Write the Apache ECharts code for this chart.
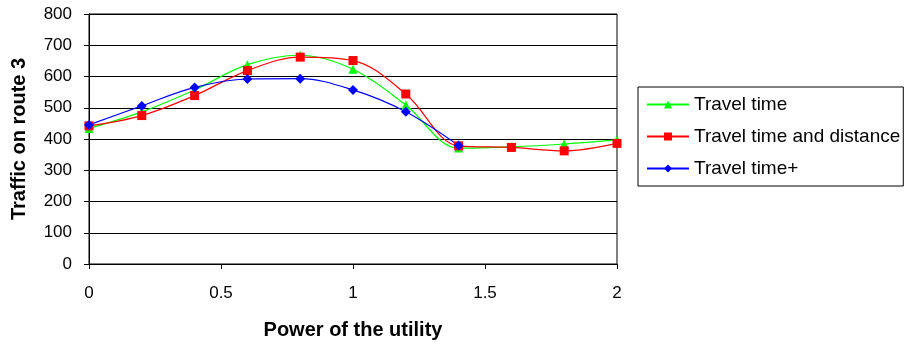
<!DOCTYPE html>
<html><head><meta charset="utf-8">
<script src="https://cdn.jsdelivr.net/npm/echarts@6/dist/echarts.min.js"></script>
<style>html,body{margin:0;padding:0;background:#fff}#c{width:910px;height:345px}</style>
</head><body><div id="c"></div>
<script>
const xValues = [0, 0.2, 0.4, 0.6, 0.8, 1.0, 1.2, 1.4, 1.6, 1.8, 2.0];
const travelTime = [434, 487, 557, 638, 668, 623, 509, 371, 375, 384, 397];
const travelTimeDistance = [442, 475, 539, 619, 662, 651, 544, 378, 373, 362, 386];
const travelTimePlus = [445, 506, 565, 592, 593, 557, 487, 379];
const yTicks = [0, 100, 200, 300, 400, 500, 600, 700, 800];
const xTickLabels = ['0', '0.5', '1', '1.5', '2'];

const pairs = (vals) => vals.map((v, i) => [xValues[i], v]);
const font = 'Liberation Sans, Arial, sans-serif';
const chart = echarts.init(document.getElementById('c'));
chart.setOption({
  animation: false,
  grid: { left: 89, right: 293, top: 14, bottom: 81, show: true, borderColor: '#000', borderWidth: 1 },
  xAxis: {
    type: 'value', min: 0, max: 2, interval: 0.5,
    name: 'Power of the utility', nameLocation: 'middle', nameGap: 56,
    nameTextStyle: { fontFamily: font, fontWeight: 'bold', fontSize: 20, color: '#000' },
    axisLine: { lineStyle: { color: '#000', width: 1 } },
    axisTick: { show: true, length: 5, lineStyle: { color: '#000' } },
    axisLabel: { fontFamily: font, fontSize: 17, color: '#000', margin: 21,
      formatter: (v) => { const s = String(v); return xTickLabels.includes(s) ? s : ''; } },
    splitLine: { show: false }
  },
  yAxis: {
    type: 'value', min: yTicks[0], max: yTicks[yTicks.length - 1], interval: 100,
    name: 'Traffic on route 3', nameLocation: 'middle', nameGap: 60, nameRotate: 90,
    nameTextStyle: { fontFamily: font, fontWeight: 'bold', fontSize: 20, color: '#000' },
    axisLine: { show: true, lineStyle: { color: '#000', width: 1 } },
    axisTick: { show: true, length: 5, lineStyle: { color: '#000' } },
    axisLabel: { fontFamily: font, fontSize: 17, color: '#000', margin: 17 },
    splitLine: { show: true, lineStyle: { color: '#000', width: 1 } }
  },
  legend: {
    orient: 'vertical', left: 638, top: 87,
    backgroundColor: '#fff', borderColor: '#000', borderWidth: 1,
    padding: [8, 3, 8, 8], itemGap: 13, itemWidth: 42, itemHeight: 10,
    textStyle: { fontFamily: font, fontSize: 19, color: '#000', padding: [0, 0, 0, 0] },
    data: ['Travel time', 'Travel time and distance', 'Travel time+']
  },
  series: [
    { name: 'Travel time', type: 'line', smooth: 0.35, data: pairs(travelTime),
      symbol: 'triangle', symbolSize: 9, color: '#00ff00',
      lineStyle: { width: 1.2, color: '#00ff00' }, itemStyle: { color: '#00ff00' } },
    { name: 'Travel time and distance', type: 'line', smooth: 0.35, data: pairs(travelTimeDistance),
      symbol: 'rect', symbolSize: 9, color: '#ff0000',
      lineStyle: { width: 1.2, color: '#ff0000' }, itemStyle: { color: '#ff0000' } },
    { name: 'Travel time+', type: 'line', smooth: 0.35, data: pairs(travelTimePlus),
      symbol: 'diamond', symbolSize: 10, color: '#0000ff',
      lineStyle: { width: 1.2, color: '#0000ff' }, itemStyle: { color: '#0000ff' } }
  ]
});
</script></body></html>
